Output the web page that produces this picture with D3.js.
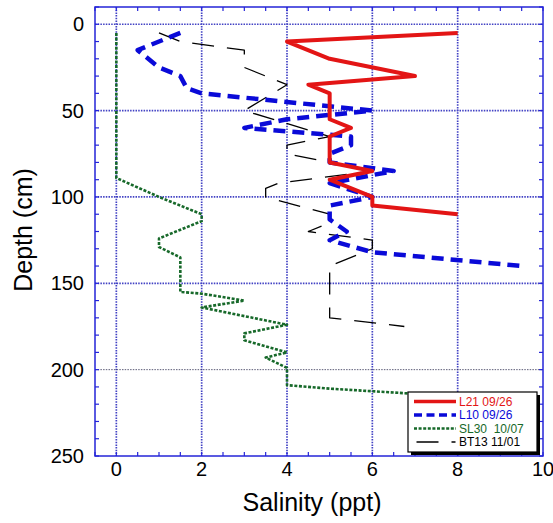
<!DOCTYPE html>
<meta charset="utf-8">
<script src="https://d3js.org/d3.v7.min.js"></script>
<style>
  body { margin: 0; background: #fff; }
  text { font-family: "Liberation Sans", Arial, Helvetica, sans-serif; }
</style>
<div id="chart"></div>
<script>

// salinity profiles: depth (cm) and salinity (ppt)
var depthL21 = [5, 10, 20, 30, 35, 40, 55, 60, 65, 80, 85, 90, 100, 105, 110];
var salL21   = [8, 4, 5, 7, 4.5, 5, 5, 5.5, 5, 5, 6, 5, 6, 6, 8];

var depthL10 = [5, 15, 25, 30, 37, 40, 50, 55, 60, 65, 70, 75, 80, 85, 92, 100, 105, 113, 120, 125, 132, 140];
var salL10   = [1.5, 0.5, 1, 1.5, 1.65, 2, 6, 4, 3, 5.5, 5.5, 5, 5, 6.5, 5, 6, 5, 5, 5.4, 5, 6, 9.5];

var depthSL30 = [5, 89, 100, 110, 114, 124, 129, 135, 155, 156, 160, 164, 174, 179, 183, 190, 193, 199, 209, 211, 212.5, 214, 215];
var salSL30   = [0, 0, 1, 2, 2, 1, 1, 1.5, 1.5, 2, 3, 2, 4, 3, 3, 4, 3.5, 4, 4, 5, 6, 7, 8];

var depthBT13 = [5, 10, 15, 20, 25, 35, 50, 65, 70, 75, 85, 92, 95, 100, 110, 115, 120, 125, 130, 140, 170, 175];
var salBT13   = [1, 1.5, 3, 3, 3, 4, 3, 5, 4, 4, 6, 3.8, 3.5, 3.5, 5, 5, 4.5, 6, 6, 5, 5, 6.75];

var xTicks = [0, 2, 4, 6, 8, 10];
var yTicks = [0, 50, 100, 150, 200, 250];

var width = 553, height = 523;
var pLeft = 95, pRight = 543, pTop = 7, pBottom = 456;

var svg = d3.select("#chart").append("svg")
  .attr("width", width)
  .attr("height", height);

var x = d3.scaleLinear().domain([-0.5, 10]).range([pLeft, pRight]);
var y = d3.scaleLinear().domain([-10, 250]).range([pTop, pBottom]);

var frameColor = "#2424d8";
var gridColor = "#4242c4";

// grid lines
svg.selectAll(".vgrid")
  .data(xTicks.filter(function(d) { return d < 10; }))
  .enter().append("line")
  .attr("x1", function(d) { return x(d); })
  .attr("x2", function(d) { return x(d); })
  .attr("y1", pTop).attr("y2", pBottom)
  .attr("stroke", gridColor)
  .attr("stroke-width", 1.7)
  .attr("stroke-dasharray", "1.5,1.2");

svg.selectAll(".hgrid")
  .data(yTicks.filter(function(d) { return d < 250; }))
  .enter().append("line")
  .attr("x1", pLeft).attr("x2", pRight)
  .attr("y1", function(d) { return y(d); })
  .attr("y2", function(d) { return y(d); })
  .attr("stroke", function(d) { return d == 200 ? "#333355" : gridColor; })
  .attr("stroke-width", function(d) { return d == 200 ? 0.8 : 1.7; })
  .attr("stroke-dasharray", "1.5,1.2");

// inward ticks on all four sides
var xMinor = d3.range(-0.5, 10.01, 0.5);
var yMinor = d3.range(-10, 250.1, 10);
var tl = 4;

svg.append("g").selectAll("line").data(xMinor).enter().append("line")
  .attr("x1", function(d) { return x(d); }).attr("x2", function(d) { return x(d); })
  .attr("y1", pBottom).attr("y2", pBottom - tl)
  .attr("stroke", frameColor).attr("stroke-width", 1.2);
svg.append("g").selectAll("line").data(xMinor).enter().append("line")
  .attr("x1", function(d) { return x(d); }).attr("x2", function(d) { return x(d); })
  .attr("y1", pTop).attr("y2", pTop + tl)
  .attr("stroke", frameColor).attr("stroke-width", 1.2);
svg.append("g").selectAll("line").data(yMinor).enter().append("line")
  .attr("x1", pLeft).attr("x2", pLeft + tl)
  .attr("y1", function(d) { return y(d); }).attr("y2", function(d) { return y(d); })
  .attr("stroke", frameColor).attr("stroke-width", 1.2);
svg.append("g").selectAll("line").data(yMinor).enter().append("line")
  .attr("x1", pRight).attr("x2", pRight - tl)
  .attr("y1", function(d) { return y(d); }).attr("y2", function(d) { return y(d); })
  .attr("stroke", frameColor).attr("stroke-width", 1.2);

// tick labels
svg.selectAll(".xlab").data(xTicks).enter().append("text")
  .attr("x", function(d) { return x(d); })
  .attr("y", 476)
  .attr("text-anchor", "middle")
  .style("font-size", "20px")
  .text(function(d) { return d; });

svg.selectAll(".ylab").data(yTicks).enter().append("text")
  .attr("x", 84)
  .attr("y", function(d) { return y(d) + 7; })
  .attr("text-anchor", "end")
  .style("font-size", "20px")
  .text(function(d) { return d; });

// axis titles
svg.append("text")
  .attr("x", 312).attr("y", 511)
  .attr("text-anchor", "middle")
  .style("font-size", "25px")
  .text("Salinity (ppt)");

svg.append("text")
  .attr("transform", "translate(32,230) rotate(-90)")
  .attr("text-anchor", "middle")
  .style("font-size", "25px")
  .text("Depth (cm)");

// profiles
svg.append("clipPath").attr("id", "plotclip")
  .append("rect").attr("x", pLeft).attr("y", pTop)
  .attr("width", pRight - pLeft).attr("height", pBottom - pTop);

var series = [
  { name: "L21 09/26",   depth: depthL21,  sal: salL21,  color: "#e31515", width: 4,   dash: null,    ldash: null },
  { name: "L10 09/26",   depth: depthL10,  sal: salL10,  color: "#0a0ad8", width: 4.5, dash: "12,7",  ldash: "8,4.5" },
  { name: "SL30  10/07", depth: depthSL30, sal: salSL30, color: "#17692a", width: 2.6, dash: "3,1.6", ldash: "3,1.6" },
  { name: "BT13 11/01",  depth: depthBT13, sal: salBT13, color: "#000000", width: 1.3, dash: "22,13", ldash: "22,13" }
];

var line = d3.line()
  .x(function(d) { return x(d[0]); })
  .y(function(d) { return y(d[1]); });

var plot = svg.append("g").attr("clip-path", "url(#plotclip)");

// draw bottom to top: green, black, blue, red
[2, 3, 1, 0].forEach(function(i) {
  var s = series[i];
  plot.append("path")
    .datum(d3.zip(s.sal, s.depth))
    .attr("d", line)
    .attr("fill", "none")
    .attr("stroke", s.color)
    .attr("stroke-width", s.width)
    .attr("stroke-linejoin", "round")
    .attr("stroke-dasharray", s.dash);
});

// frame
svg.append("rect")
  .attr("x", pLeft).attr("y", pTop)
  .attr("width", pRight - pLeft).attr("height", pBottom - pTop)
  .attr("fill", "none")
  .attr("stroke", frameColor)
  .attr("stroke-width", 1.5);

// legend
var lg = svg.append("g");
lg.append("rect")
  .attr("x", 411).attr("y", 395)
  .attr("width", 129).attr("height", 60)
  .attr("fill", "#000");
lg.append("rect")
  .attr("x", 408).attr("y", 392)
  .attr("width", 129).attr("height", 60)
  .attr("fill", "#fff")
  .attr("stroke", "#000")
  .attr("stroke-width", 1.2);

var rows = [405.5, 419, 432.5, 446];
series.forEach(function(s, i) {
  lg.append("line")
    .attr("x1", i == 3 ? 416.5 : 414).attr("x2", i == 3 ? 455.5 : 456)
    .attr("y1", rows[i] - 4).attr("y2", rows[i] - 4)
    .attr("stroke", s.color)
    .attr("stroke-width", i == 3 ? 1.3 : (i == 2 ? 2.4 : 3.6))
    .attr("stroke-dasharray", s.ldash);
  lg.append("text")
    .attr("x", 459).attr("y", rows[i])
    .attr("fill", s.color)
    .style("font-size", "12px")
    .style("white-space", "pre")
    .text(s.name);
});

</script>
